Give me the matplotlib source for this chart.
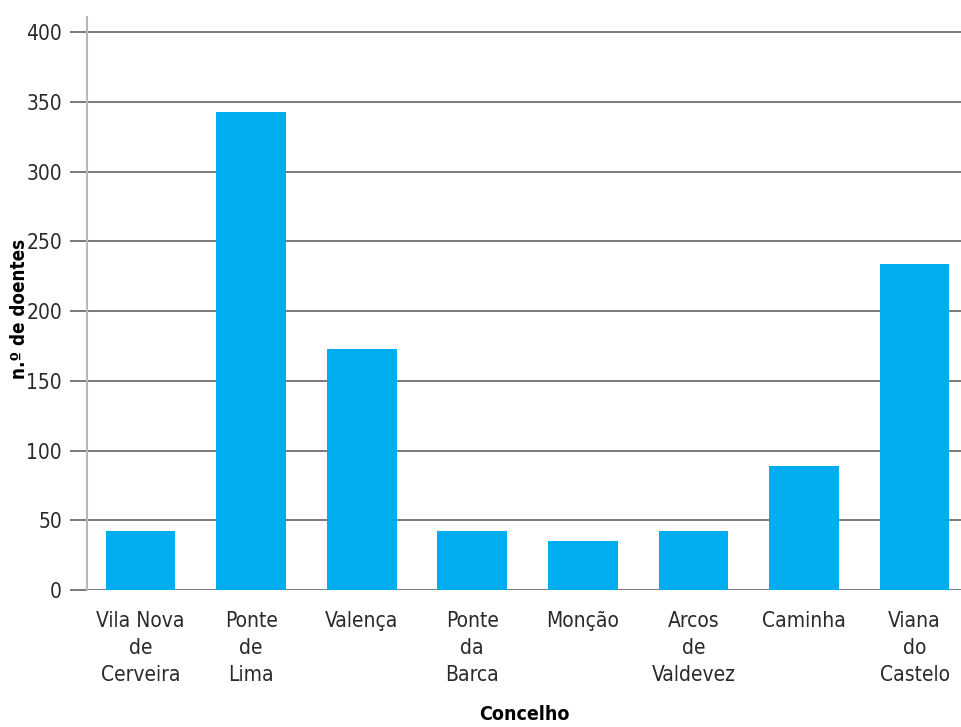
import matplotlib.pyplot as plt
import numpy as np

# concelhos e nº de doentes
concelhos = ["Vila Nova\nde\nCerveira", "Ponte\nde\nLima", "Valença", "Ponte\nda\nBarca",
             "Monção", "Arcos\nde\nValdevez", "Caminha", "Viana\ndo\nCastelo"]
doentes = [42, 343, 173, 42, 35, 42, 89, 234]
yticks = [0, 50, 100, 150, 200, 250, 300, 350, 400]

BAR_COLOR = "#00AEEF"
GRID_COLOR = "#6e6e6e"
TXT = "#2a2a2a"

plt.rcParams['font.family'] = ['DejaVu Sans']
plt.rcParams['font.stretch'] = 'condensed'

fig = plt.figure(figsize=(9.61, 7.27), dpi=100)
ax = fig.add_axes([0.0905, 0.1884, 0.9095, 0.7882])

x = np.arange(len(concelhos))
ax.bar(x, doentes, width=0.63, color=BAR_COLOR, zorder=3)

ax.set_xlim(-0.485, 7.42)
ax.set_ylim(0, 411)
ax.set_yticks(yticks)
ax.set_xticks(x)
ax.set_xticklabels(concelhos, fontsize=15, color=TXT, linespacing=1.45)
ax.tick_params(axis='x', length=0, pad=15)
ax.tick_params(axis='y', length=12, width=1.3, color=GRID_COLOR, pad=6,
               labelsize=15, labelcolor=TXT)
ax.yaxis.grid(True, color=GRID_COLOR, linewidth=1.3, zorder=0)
ax.set_axisbelow(True)

for s in ['top', 'right', 'bottom']:
    ax.spines[s].set_visible(False)
ax.spines['left'].set_color("#b8b8b8")
ax.spines['left'].set_linewidth(1.5)

ax.set_xlabel("Concelho", fontsize=14, fontweight='bold', labelpad=14)
ax.set_ylabel("n.º de doentes", fontsize=13.5, fontweight='bold')
ax.yaxis.set_label_coords(-0.066, 0.49)

fig.savefig("out.png", dpi=100)
